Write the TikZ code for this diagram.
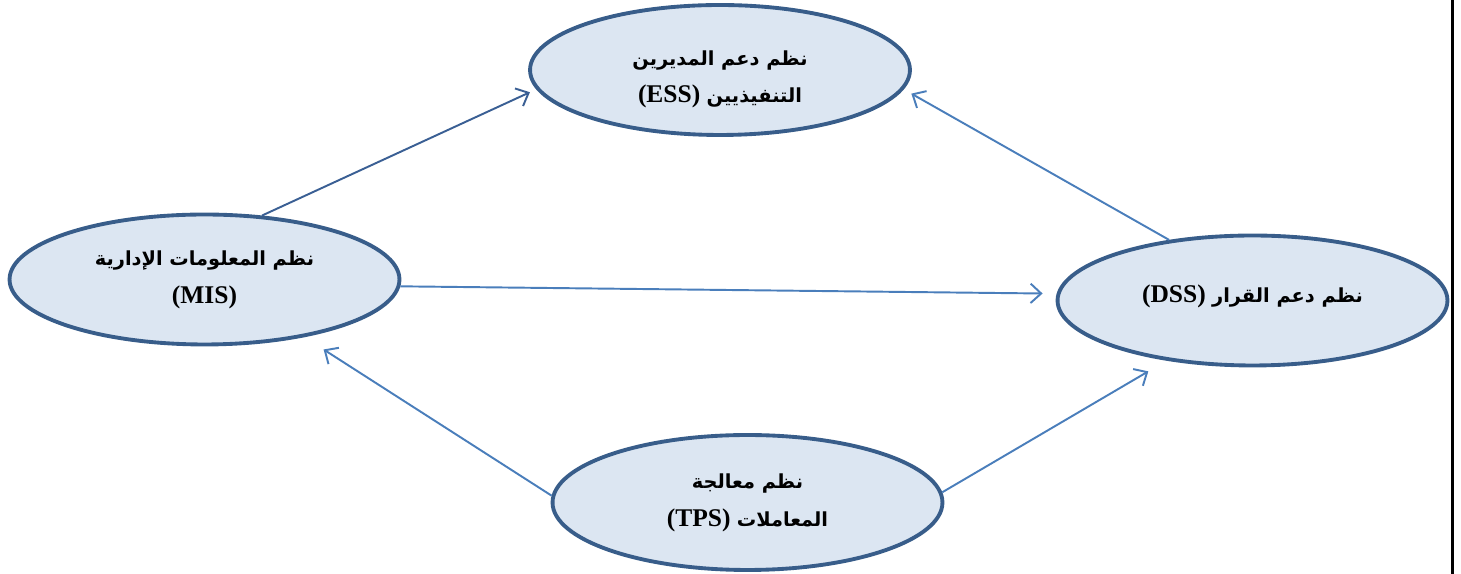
\documentclass[tikz,border=0pt]{standalone}
\usepackage{fontspec}
\setmainfont{Liberation Serif}
\newfontfamily\arabicfont[Script=Arabic,Scale=0.76]{DejaVu Sans}
\TeXXeTstate=1
\usetikzlibrary{arrows.meta,shapes.geometric}
\definecolor{sysline}{HTML}{385D8A}
\definecolor{sysfill}{HTML}{DCE6F2}
\definecolor{arrowlight}{HTML}{4A7EBB}
\definecolor{arrowdark}{HTML}{3A5F94}
\newcommand{\arword}[1]{{\arabicfont #1}}
\newcommand{\abbr}[1]{\beginL(#1)\endL}

\begin{document}
\begin{tikzpicture}[x=0.02cm,y=0.02cm,>={Straight Barb[length=6pt,width=11pt]},
  sys/.style={ellipse,draw=sysline,fill=sysfill,line width=2.2pt,
    minimum width=7.8cm,minimum height=2.6cm,align=center,
    font=\bfseries\fontsize{14.5}{21.5}\selectfont},
  link/.style={->,line width=1.1pt,arrowlight}]
\useasboundingbox (0,0) rectangle (1461,574);
\node[sys,minimum width=7.6cm] (ess) at (720,504)
  {\rule{0pt}{19pt}\beginR\arword{نظم دعم المديرين}\endR\\ \beginR\arword{التنفيذيين} \abbr{ESS}\endR};
\node[sys] (mis) at (204.5,294.5)
  {\beginR\arword{نظم المعلومات الإدارية}\endR\\ \abbr{MIS}};
\node[sys] (dss) at (1252.5,273.5)
  {\raisebox{8pt}{\beginR\arword{نظم دعم القرار} \abbr{DSS}\endR}};
\node[sys,minimum height=2.7cm] (tps) at (747.5,71.5)
  {\beginR\arword{نظم معالجة}\endR\\ \beginR\arword{المعاملات} \abbr{TPS}\endR};
\draw[link,arrowdark,shorten >=4pt] (mis.48) -- (ess.186);
\draw[link,shorten >=5pt] (dss.144) -- (ess.-6);
\draw[link,shorten >=8pt] (mis.-2) -- (dss.178);
\draw[link,shorten >=13pt] (tps.178) -- (mis.-30);
\draw[link,shorten >=12pt] (tps.3) -- (dss.215);
\draw[line width=1.2pt] (1452.5,0) -- (1452.5,574);
\end{tikzpicture}
\end{document}
